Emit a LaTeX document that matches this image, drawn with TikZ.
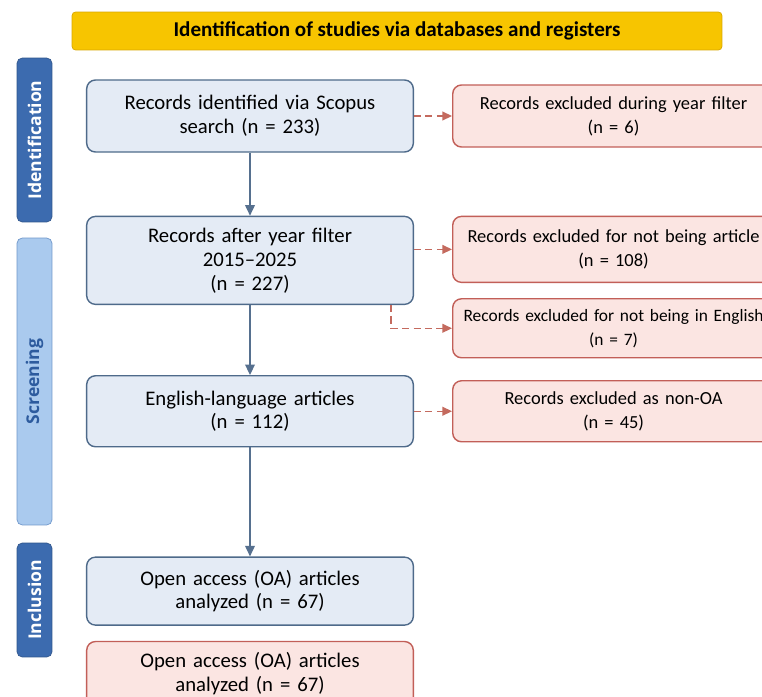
\documentclass[tikz,border=0pt]{standalone}
\usepackage{fontspec}
\setmainfont{Carlito}
\newfontfamily\phasefont{Open Sans}
\usetikzlibrary{positioning, arrows.meta}

\definecolor{bannerfill}{HTML}{F7C500}
\definecolor{bannerdraw}{HTML}{D9A800}
\definecolor{phasedark}{HTML}{3C6BAF}
\definecolor{phaselight}{HTML}{AACAEE}
\definecolor{phaseline}{HTML}{6F97CB}
\definecolor{phasetext}{HTML}{2D5B9E}
\definecolor{stepfill}{HTML}{E4EBF5}
\definecolor{stepdraw}{HTML}{4E6A8A}
\definecolor{exfill}{HTML}{FBE5E2}
\definecolor{exdraw}{HTML}{C25F58}
\definecolor{flowline}{HTML}{56708F}
\definecolor{exline}{HTML}{C46A5E}

\begin{document}
\begin{tikzpicture}[
        x=0.02cm, y=-0.02cm,
        banner/.style={
            rectangle,
            rounded corners=2pt,
            draw=bannerdraw,
            fill=bannerfill,
            minimum width=13cm,
            minimum height=0.76cm,
            font=\fontsize{12}{14}\selectfont\bfseries
        },
        phase/.style={
            rectangle,
            rounded corners=3pt,
            draw=phasedark!80!black,
            fill=phasedark,
            text=white,
            rotate=90,
            minimum height=0.7cm,
            font=\phasefont\fontsize{10}{12}\selectfont\bfseries
        },
        stepbox/.style={
            rectangle,
            rounded corners=5pt,
            draw=stepdraw,
            thick,
            fill=stepfill,
            text width=6.3cm,
            minimum width=6.52cm,
            align=center,
            font=\fontsize{11.8}{13.6}\selectfont
        },
        exbox/.style={
            rectangle,
            rounded corners=5pt,
            draw=exdraw,
            thick,
            fill=exfill,
            text width=6.2cm,
            minimum width=6.3cm,
            align=center,
            font=\fontsize{10.5}{13.6}\selectfont
        },
        link/.style={
            -{Triangle[length=6pt,width=5.5pt]},
            thick,
            flowline
        },
        exlink/.style={
            -{Triangle[length=5.5pt,width=5pt]},
            thick,
            dash pattern=on 4pt off 2.5pt,
            exline
        }
    ]

    \useasboundingbox[fill=white] (0,0) rectangle (762,697);

    % Banner
    \node[banner] (banner) at (397,31) {Identification of studies via databases and registers};

    % Phases
    \node[phase, minimum width=3.28cm] (identification) at (34.5,140) {Identification};
    \node[phase, minimum width=5.74cm, fill=phaselight, draw=phaseline, text=phasetext] (screening) at (34.5,381.5) {Screening};
    \node[phase, minimum width=2.28cm] (inclusion) at (34.5,600) {Inclusion};

    % Main flow
    \node[stepbox, minimum height=1.44cm] (identified) at (250,116) {
        Records identified via Scopus\\
        search (n = 233)
    };
    \node[stepbox, minimum height=1.76cm, below=1.26cm of identified] (yearfilter) {
        Records after year filter\\
        2015--2025\\
        (n = 227)
    };
    \node[stepbox, minimum height=1.42cm, below=1.4cm of yearfilter] (english) {
        English-language articles\\
        (n = 112)
    };
    \node[stepbox, minimum height=1.36cm, below=2.18cm of english] (included) {
        Open access (OA) articles\\
        analyzed (n = 67)
    };
    \node[stepbox, minimum height=1.3cm, below=0.3cm of included, draw=exdraw, fill=exfill] (includedcopy) {
        Open access (OA) articles\\
        analyzed (n = 67)
    };

    % Exclusions
    \node[exbox, minimum height=1.24cm, right=0.76cm of identified] (exyear) {
        Records excluded during year filter\\
        (n = 6)
    };
    \node[exbox, minimum height=1.32cm, anchor=north west] (exarticle) at ([xshift=0.76cm]yearfilter.north east) {
        Records excluded for not being article\\
        (n = 108)
    };
    \node[exbox, minimum height=1.18cm, below=0.3cm of exarticle, font=\fontsize{9.9}{13.6}\selectfont] (exlanguage) {
        Records excluded for not being in English\\
        (n = 7)
    };
    \node[exbox, minimum height=1.22cm, right=0.76cm of english] (exaccess) {
        Records excluded as non-OA\\
        (n = 45)
    };

    % Arrows
    \draw[link] (identified) -- (yearfilter);
    \draw[link] (yearfilter) -- (english);
    \draw[link] (english) -- (included);
    \draw[exlink] (identified) -- (exyear);
    \draw[exlink] (yearfilter.east |- exarticle.west) -- (exarticle);
    \draw[exlink] ([xshift=-0.46cm]yearfilter.south east) |- (exlanguage.west);
    \draw[exlink] (english) -- (exaccess);

\end{tikzpicture}
\end{document}
